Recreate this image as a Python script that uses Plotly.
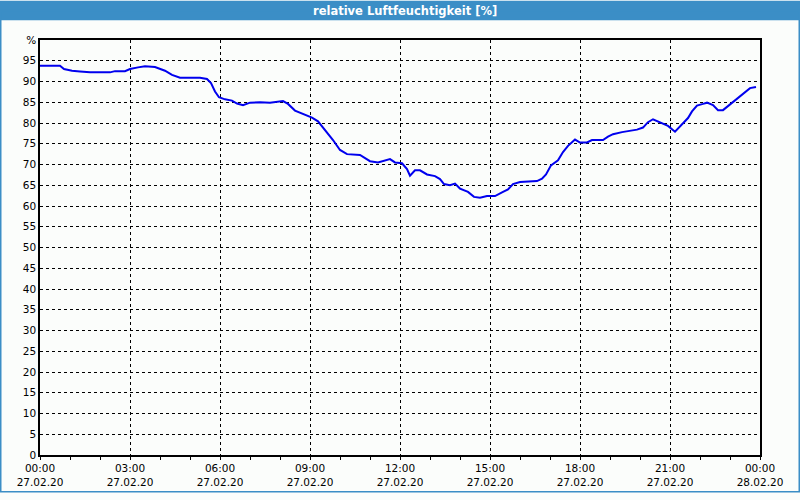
import plotly.graph_objects as go

times = ["00:00","00:40","00:48","01:04","01:20","01:40","02:20","02:30","02:50","03:00",
         "03:16","03:30","03:50","04:10","04:24","04:40","05:20","05:34","05:42","05:50",
         "05:58","06:10","06:24","06:34","06:46","07:00","07:20","07:40","08:06","08:16",
         "08:30","08:50","09:04","09:16","09:30","09:46","10:00","10:14","10:40","11:00",
         "11:16","11:30","11:40","11:50","12:04","12:14","12:20","12:30","12:40","12:54",
         "13:10","13:20","13:28","13:40","13:50","14:00","14:16","14:28","14:40","14:54",
         "15:10","15:26","15:36","15:46","16:00","16:34","16:44","16:52","17:02","17:16",
         "17:26","17:36","17:50","18:00","18:14","18:24","18:46","18:56","19:06","19:24",
         "19:54","20:06","20:16","20:26","20:40","20:56","21:10","21:24","21:36","21:44",
         "21:54","22:06","22:14","22:26","22:36","22:46","23:00","23:16","23:30","23:40","23:52"]
humidity = [93.8,93.8,93.0,92.6,92.4,92.2,92.2,92.5,92.5,93.0,
            93.4,93.7,93.5,92.6,91.6,90.9,90.9,90.6,89.6,87.6,
            86.2,85.7,85.4,84.7,84.3,84.9,85.0,84.9,85.3,84.6,
            83.0,81.9,81.3,80.4,78.3,75.9,73.5,72.5,72.3,70.8,
            70.5,70.9,71.3,70.5,70.3,68.9,67.3,68.6,68.6,67.6,
            67.2,66.5,65.3,65.0,65.4,64.2,63.4,62.2,62.0,62.4,
            62.4,63.4,64.0,65.3,65.8,66.0,66.6,67.6,69.8,71.0,
            73.0,74.5,76.0,75.3,75.3,75.9,75.9,76.7,77.3,77.8,
            78.4,78.9,80.2,80.9,80.1,79.3,77.9,79.8,81.2,82.8,
            84.2,84.6,84.9,84.3,83.1,83.1,84.5,86.2,87.6,88.4,88.7]

x_tick_times = ["2020-02-27 00:00","2020-02-27 03:00","2020-02-27 06:00","2020-02-27 09:00",
                "2020-02-27 12:00","2020-02-27 15:00","2020-02-27 18:00","2020-02-27 21:00",
                "2020-02-28 00:00"]
x_tick_text = ["00:00<br>27.02.20","03:00<br>27.02.20","06:00<br>27.02.20","09:00<br>27.02.20",
               "12:00<br>27.02.20","15:00<br>27.02.20","18:00<br>27.02.20","21:00<br>27.02.20",
               "00:00<br>28.02.20"]
y_tick_vals = list(range(0, 101, 5))
y_tick_text = [str(v) for v in range(0, 100, 5)] + ["%"]

title_text = "relative Luftfeuchtigkeit [%]"

BG = "#fbfdfb"
BAR = "#3b8ec6"
FONT = "DejaVu Sans"
FS = 10.5

x = ["2020-02-27 " + t for t in times]

fig = go.Figure()
fig.add_trace(go.Scatter(x=x, y=humidity, mode="lines",
                         line=dict(color="#0000ee", width=2), hoverinfo="skip"))

W, H = 800, 500
L, R, T, B = 40, 40, 40, 38
pw, ph = W - L - R, H - T - B

def px(xp):
    return (xp - L) / pw

def py(yp):
    return 1 - (yp - T) / ph

fig.update_layout(
    width=W, height=H, autosize=False,
    margin=dict(l=L, r=R, t=T, b=B, pad=0),
    paper_bgcolor=BG, plot_bgcolor=BG,
    showlegend=False,
    font=dict(family=FONT, size=FS, color="#000000"),
    xaxis=dict(
        type="date",
        range=["2020-02-27 00:00", "2020-02-28 00:00"],
        tickvals=x_tick_times, ticktext=x_tick_text,
        showgrid=True, gridcolor="#000000", griddash="3px,3px", gridwidth=1,
        showline=True, linecolor="#000000", linewidth=1.5, mirror=True,
        ticks="outside", ticklen=3, tickcolor="#000000", tickwidth=1,
        minor=dict(dtick=3600000, ticks="outside", ticklen=3, tickcolor="#000000", showgrid=False),
        zeroline=False, tickfont=dict(family=FONT, size=FS),
    ),
    yaxis=dict(
        range=[0, 100],
        tickvals=y_tick_vals, ticktext=y_tick_text,
        showgrid=True, gridcolor="#000000", griddash="3px,3px", gridwidth=1,
        showline=True, linecolor="#000000", linewidth=1.5, mirror=True,
        ticks="", zeroline=False, tickfont=dict(family=FONT, size=FS),
    ),
    shapes=[
        dict(type="rect", xref="paper", yref="paper",
             x0=px(0), x1=px(W), y0=py(20), y1=py(0),
             fillcolor=BAR, line=dict(width=0), layer="above"),
        dict(type="rect", xref="paper", yref="paper",
             x0=px(0.75), x1=px(W - 0.75), y0=py(H - 0.75), y1=py(10),
             fillcolor="rgba(0,0,0,0)", line=dict(color=BAR, width=1.5), layer="above"),
    ],
    annotations=[
        dict(text="<b>" + title_text + "</b>", xref="paper", yref="paper",
             x=px(405), y=py(10.5), xanchor="center", yanchor="middle", showarrow=False,
             font=dict(family=FONT, size=11.5, color="#ffffff")),
    ],
)

fig.write_html("out.html")
